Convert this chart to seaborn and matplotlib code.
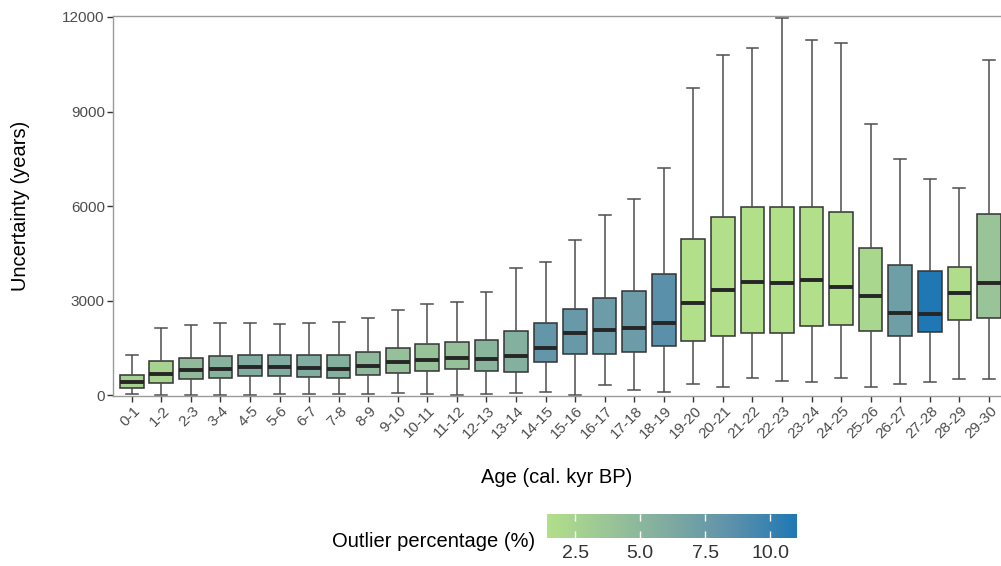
import numpy as np
import pandas as pd
import matplotlib
matplotlib.use("Agg")
import matplotlib.pyplot as plt
import matplotlib.transforms as mtransforms
import seaborn as sns
from matplotlib.colors import LinearSegmentedColormap, Normalize
from matplotlib.cm import ScalarMappable

ages = ["0-1", "1-2", "2-3", "3-4", "4-5", "5-6", "6-7", "7-8", "8-9", "9-10",
        "10-11", "11-12", "12-13", "13-14", "14-15", "15-16", "16-17", "17-18", "18-19", "19-20",
        "20-21", "21-22", "22-23", "23-24", "24-25", "25-26", "26-27", "27-28", "28-29", "29-30"]

# summary stats (years)
unc_min = [30, 20, 20, 10, 10, 50, 50, 50, 50, 85,
           50, 20, 50, 85, 105, 0, 320, 160, 105, 340,
           245, 550, 455, 425, 550, 265, 350, 425, 500, 500]
unc_q1 = [235, 400, 510, 530, 600, 600, 580, 550, 655, 690,
          775, 825, 775, 720, 1040, 1320, 1320, 1375, 1565, 1725,
          1885, 1960, 1980, 2190, 2220, 2040, 1885, 2010, 2380, 2455]
unc_med = [425, 665, 795, 825, 900, 880, 870, 845, 940, 1060,
           1110, 1195, 1145, 1250, 1505, 1960, 2065, 2140, 2295, 2910,
           3335, 3600, 3545, 3670, 3420, 3155, 2615, 2560, 3250, 3575]
unc_q3 = [655, 1080, 1185, 1240, 1290, 1260, 1260, 1260, 1355, 1505,
          1620, 1695, 1765, 2040, 2305, 2750, 3090, 3300, 3830, 4940,
          5640, 5960, 5980, 5980, 5800, 4655, 4115, 3950, 4055, 5735]
unc_max = [1290, 2140, 2220, 2295, 2295, 2265, 2275, 2330, 2435, 2700,
           2880, 2965, 3260, 4020, 4210, 4910, 5715, 6225, 7200, 9735,
           10795, 11005, 11980, 11270, 11165, 8605, 7485, 6845, 6560, 10625]
outlier_pct = [2.8, 2.5, 4.6, 5.4, 6.0, 6.0, 6.0, 5.6, 4.8, 4.2,
               4.0, 4.2, 5.2, 5.6, 8.0, 7.8, 7.5, 7.5, 8.6, 1.5,
               1.5, 1.5, 1.45, 1.5, 1.5, 2.2, 7.3, 11.0, 1.6, 3.8]

rows = []
for i, age in enumerate(ages):
    for v in (unc_min[i], unc_q1[i], unc_med[i], unc_q3[i], unc_max[i]):
        rows.append({"age": age, "uncertainty": v})
df = pd.DataFrame(rows)

# green -> blue gradient (Lab-like stops)
cmap = LinearSegmentedColormap.from_list(
    "outl", ["#b2df8a", "#99c497", "#7da9a2", "#5b90ab", "#1f78b4"])
norm = Normalize(vmin=1.43, vmax=11.03)
pal = {a: cmap(norm(p)) for a, p in zip(ages, outlier_pct)}

plt.rcParams["font.family"] = ["Liberation Sans", "DejaVu Sans"]

fig = plt.figure(figsize=(10.01, 5.66), dpi=100)
ax = fig.add_axes([0.113, 0.3004, 0.887, 0.6713])

sns.boxplot(data=df, x="age", y="uncertainty", hue="age", palette=pal, legend=False,
            order=ages, whis=(0, 100), width=0.8, saturation=1,
            linecolor="#333333", linewidth=1.1,
            medianprops={"linewidth": 2.8, "color": "#262626"},
            whiskerprops={"color": "#4d4d4d"}, capprops={"color": "#4d4d4d"},
            ax=ax)

ax.set_xlim(-0.63, 29.41)
ax.set_ylim(-25, 12030)
ax.set_yticks([0, 3000, 6000, 9000, 12000])
ax.set_facecolor("white")
for side in ["left", "top", "bottom"]:
    ax.spines[side].set_color("#9a9a9a")
    ax.spines[side].set_linewidth(1.0)
ax.spines["right"].set_visible(False)
ax.tick_params(axis="both", colors="#333333", labelcolor="#4d4d4d", labelsize=11,
               length=4, width=1.0, pad=2)
for lab in ax.get_xticklabels():
    lab.set_rotation(45)
    lab.set_ha("right")
    lab.set_va("center")
    lab.set_rotation_mode("anchor")
    lab.set_transform(lab.get_transform() + mtransforms.ScaledTranslation(0.06, -0.04, fig.dpi_scale_trans))

ax.set_xlabel("Age (cal. kyr BP)", fontsize=14.5, color="black")
ax.xaxis.set_label_coords(0.5, -0.19)
ax.set_ylabel("Uncertainty (years)", fontsize=14.5, color="black")
ax.yaxis.set_label_coords(-0.094, 0.5)

# colour bar
cax = fig.add_axes([0.5468, 0.050, 0.2492, 0.0413])
sm = ScalarMappable(norm=norm, cmap=cmap)
cb = fig.colorbar(sm, cax=cax, orientation="horizontal", ticks=[2.5, 5.0, 7.5, 10.0])
cb.outline.set_visible(False)
cb.ax.set_xticklabels(["2.5", "5.0", "7.5", "10.0"])
cb.ax.tick_params(axis="x", direction="in", colors="white", labelcolor="#333333",
                  length=5, width=1, top=True, bottom=True, labelsize=14, pad=5)
fig.text(0.5345, 0.044, "Outlier percentage (%)", ha="right", va="center", fontsize=14.5)

fig.savefig("out.png", dpi=100, facecolor="white")
